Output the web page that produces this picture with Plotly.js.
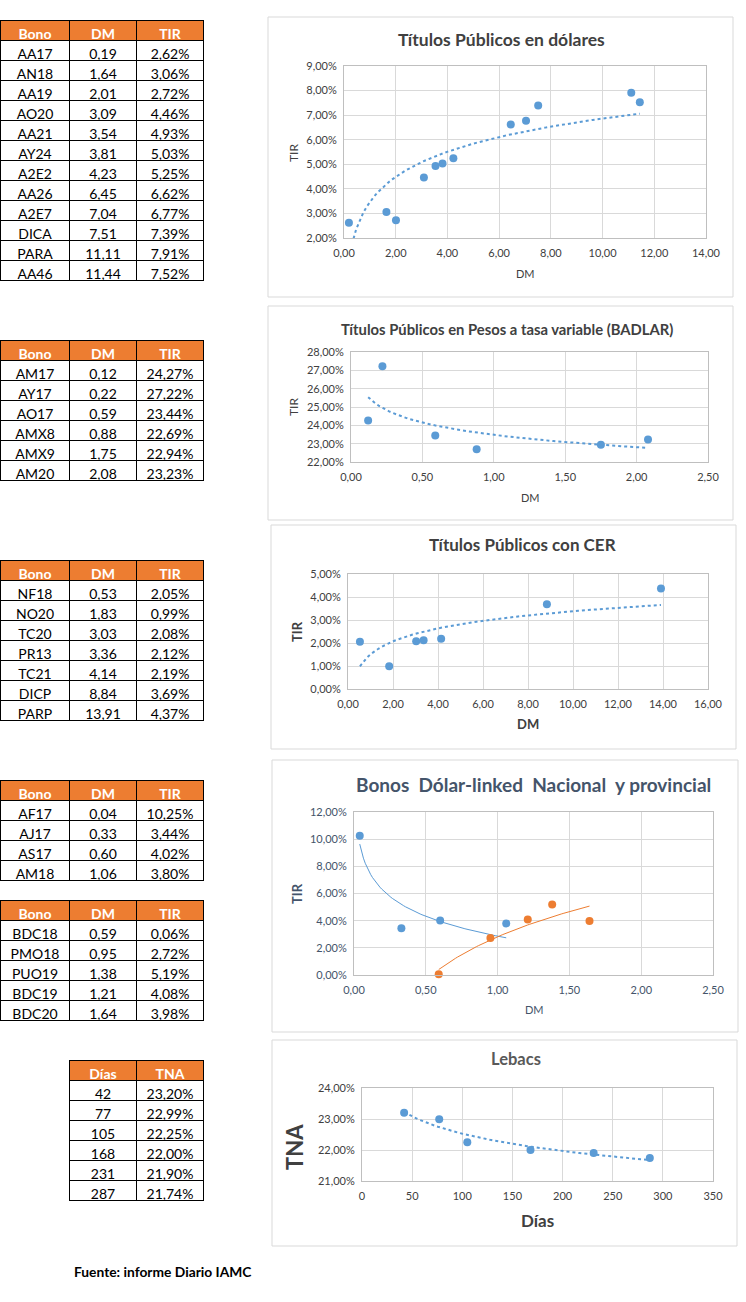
<!DOCTYPE html>
<html><head><meta charset="utf-8">
<script src="https://cdn.plot.ly/plotly-3.0.1.min.js"></script>
<style>html,body{margin:0;padding:0;background:#fff}#c{width:746px;height:1302px}</style>
</head><body><div id="c"></div>
<script>
// ---- Data ----
const usdBonos = ["AA17","AN18","AA19","AO20","AA21","AY24","A2E2","AA26","A2E7","DICA","PARA","AA46"];
const usdDM    = [0.19,1.64,2.01,3.09,3.54,3.81,4.23,6.45,7.04,7.51,11.11,11.44];
const usdTIR   = [2.62,3.06,2.72,4.46,4.93,5.03,5.25,6.62,6.77,7.39,7.91,7.52];

const badBonos = ["AM17","AY17","AO17","AMX8","AMX9","AM20"];
const badDM    = [0.12,0.22,0.59,0.88,1.75,2.08];
const badTIR   = [24.27,27.22,23.44,22.69,22.94,23.23];

const cerBonos = ["NF18","NO20","TC20","PR13","TC21","DICP","PARP"];
const cerDM    = [0.53,1.83,3.03,3.36,4.14,8.84,13.91];
const cerTIR   = [2.05,0.99,2.08,2.12,2.19,3.69,4.37];

const dlNacBonos = ["AF17","AJ17","AS17","AM18"];
const dlNacDM    = [0.04,0.33,0.60,1.06];
const dlNacTIR   = [10.25,3.44,4.02,3.80];

const dlProvBonos = ["BDC18","PMO18","PUO19","BDC19","BDC20"];
const dlProvDM    = [0.59,0.95,1.38,1.21,1.64];
const dlProvTIR   = [0.06,2.72,5.19,4.08,3.98];

const lebDias = [42,77,105,168,231,287];
const lebTNA  = [23.20,22.99,22.25,22.00,21.90,21.74];

const hdrBono = ["Bono","DM","TIR"];
const hdrLeb  = ["Días","TNA"];

// ---- helpers ----
const W = 746, H = 1302;
const px = v => v / W;
const py = v => 1 - v / H;
const fmt = v => v.toFixed(2).replace('.', ',');
const pct = v => fmt(v) + '%';

function logFit(x, y) {
  const lx = x.map(Math.log);
  const n = x.length;
  const mx = lx.reduce((a,b)=>a+b,0)/n, my = y.reduce((a,b)=>a+b,0)/n;
  let sxy = 0, sxx = 0;
  for (let i=0;i<n;i++){ sxy += (lx[i]-mx)*(y[i]-my); sxx += (lx[i]-mx)**2; }
  const a = sxy/sxx, b = my - a*mx;
  const lo = Math.min(...x), hi = Math.max(...x);
  const xs = [], ys = [];
  const N = 80;
  for (let i=0;i<=N;i++){ const xv = lo + (hi-lo)*i/N; xs.push(xv); ys.push(a*Math.log(xv)+b); }
  return {xs, ys};
}

const FONT = "Lato, 'Open Sans', sans-serif";
const BLUE = "#5B9BD5", ORANGE = "#ED7D31";

function table(headers, cols, x0, x1, yTop, nRows, widths) {
  const yBot = yTop + 20*(nRows+1) + 3;
  return {
    type: "table",
    domain: {x: [px(x0), px(x1)], y: [py(yBot), py(yTop)]},
    columnwidth: widths,
    header: {values: headers, height: 20, align: "center",
      fill: {color: ORANGE}, line: {color: "#000", width: 1},
      font: {family: FONT, size: 14, color: "#fff", weight: "bold"}},
    cells: {values: cols, height: 20, align: "center",
      fill: {color: "#fff"}, line: {color: "#000", width: 1},
      font: {family: FONT, size: 14, color: "#000"}}
  };
}

const traces = [];
traces.push(table(hdrBono, [usdBonos, usdDM.map(fmt), usdTIR.map(pct)], 0.5, 203.5, 20, usdBonos.length, [69,67,67]));
traces.push(table(hdrBono, [badBonos, badDM.map(fmt), badTIR.map(pct)], 0.5, 203.5, 340, badBonos.length, [69,67,67]));
traces.push(table(hdrBono, [cerBonos, cerDM.map(fmt), cerTIR.map(pct)], 0.5, 203.5, 560, cerBonos.length, [69,67,67]));
traces.push(table(hdrBono, [dlNacBonos, dlNacDM.map(fmt), dlNacTIR.map(pct)], 0.5, 203.5, 780, dlNacBonos.length, [69,67,67]));
traces.push(table(hdrBono, [dlProvBonos, dlProvDM.map(fmt), dlProvTIR.map(pct)], 0.5, 203.5, 900, dlProvBonos.length, [69,67,67]));
traces.push(table(hdrLeb, [lebDias.map(String), lebTNA.map(pct)], 69.5, 203.5, 1060, lebDias.length, [67,67]));

function scatterPair(x, y, ax, color, dash, width) {
  const t = logFit(x, y);
  traces.push({type:"scatter", mode:"lines", x:t.xs, y:t.ys, xaxis:"x"+ax, yaxis:"y"+ax,
    line:{color:color, dash:dash, width:width}, hoverinfo:"skip", showlegend:false});
  traces.push({type:"scatter", mode:"markers", x:x, y:y, xaxis:"x"+ax, yaxis:"y"+ax,
    marker:{color:color, size:8}, showlegend:false, cliponaxis:false});
}
scatterPair(usdDM, usdTIR, "", BLUE, "dot", 2);
scatterPair(badDM, badTIR, "2", BLUE, "dot", 2);
scatterPair(cerDM, cerTIR, "3", BLUE, "dot", 2);
scatterPair(dlNacDM, dlNacTIR, "4", BLUE, "solid", 1);
scatterPair(dlProvDM, dlProvTIR, "4", ORANGE, "solid", 1);
scatterPair(lebDias, lebTNA, "5", BLUE, "dot", 2);

function axes(n, x0, x1, y0, y1, xr, xd, xf, yr, yd, tickColor) {
  const common = {showgrid:true, gridcolor:"#D9D9D9", gridwidth:1, zeroline:false,
    showline:true, linecolor:"#D9D9D9", mirror:true, ticks:"", fixedrange:true,
    tickfont:{family:FONT, size:11, color:tickColor||"#404040"}};
  const s = n===1 ? "" : String(n);
  layout["xaxis"+s] = Object.assign({}, common, {domain:[px(x0),px(x1)], range:xr, dtick:xd, tick0:0,
    tickformat:xf, anchor:"y"+s, ticklabelstandoff:5});
  layout["yaxis"+s] = Object.assign({}, common, {domain:[py(y1),py(y0)], range:yr, dtick:yd, tick0:0,
    tickformat:".2f", ticksuffix:"%", anchor:"x"+s, ticklabelstandoff:4});
  layout["yaxis"+s].linecolor = "#BFBFBF";
  layout["xaxis"+s].linecolor = "#BFBFBF";
}

const layout = {
  width: W, height: H, margin:{l:0,r:0,t:0,b:0},
  paper_bgcolor:"#fff", plot_bgcolor:"#fff", separators:",.",
  showlegend:false, font:{family:FONT},
  shapes:[], annotations:[]
};
axes(1, 344, 706, 66, 238, [0,14], 2, ".2f", [2,9], 1);
axes(2, 351, 708, 352, 462, [0,2.5], 0.5, ".2f", [22,28], 1);
axes(3, 348, 708, 574, 689, [0,16], 2, ".2f", [0,5], 1);
axes(4, 354, 713, 812, 975, [0,2.5], 0.5, ".2f", [0,12], 2, "#44546A");
axes(5, 362, 713, 1088, 1181, [0,350], 50, "d", [21,24], 1);

function box(x0,y0,x1,y1){
  layout.shapes.push({type:"rect", xref:"paper", yref:"paper", x0:px(x0), x1:px(x1), y0:py(y1), y1:py(y0),
    line:{color:"#D9D9D9", width:1}, fillcolor:"rgba(0,0,0,0)", layer:"below"});
}
box(268, 17, 733, 297);
box(268, 306, 733, 520);
box(271, 525, 736, 749);
box(272, 760, 738, 1032);
box(272, 1040, 737, 1246);

function text(t, x, y, size, color, bold, rot, anchor) {
  layout.annotations.push({text:t, xref:"paper", yref:"paper", x:px(x), y:py(y),
    xanchor:anchor||"center", yanchor:"middle", showarrow:false, textangle:rot||0,
    font:{family:FONT, size:size, color:color, weight: bold ? "bold" : "normal"}});
}
// chart titles
text("Títulos Públicos en dólares", 501, 39, 17.5, "#404040", true);
text("Títulos Públicos en Pesos a tasa variable (BADLAR)", 507, 329, 14.8, "#404040", true);
text("Títulos Públicos con CER", 522, 545, 17, "#404040", true);
text("Bonos  Dólar-linked  Nacional  y provincial", 533, 784, 19, "#44546A", true);
text("Lebacs", 516, 1059, 16.5, "#595959", true);
// axis titles
text("TIR", 293, 153, 12, "#404040", false, -90);
text("DM", 525, 274, 11, "#404040", false);
text("TIR", 293, 407, 12, "#404040", false, -90);
text("DM", 530, 497, 11, "#404040", false);
text("TIR", 297, 632, 13, "#404040", true, -90);
text("DM", 528, 724, 13, "#404040", true);
text("TIR", 297, 894, 13, "#44546A", true, -90);
text("DM", 534, 1009, 11, "#44546A", false);
text("TNA", 294, 1147, 22, "#404040", true, -90);
text("Días", 537, 1220, 17, "#404040", true);
// footer
text("Fuente: informe Diario IAMC", 72, 1271, 13.8, "#000", true, 0, "left");

Plotly.newPlot("c", traces, layout, {staticPlot:true, displayModeBar:false});
</script></body></html>
